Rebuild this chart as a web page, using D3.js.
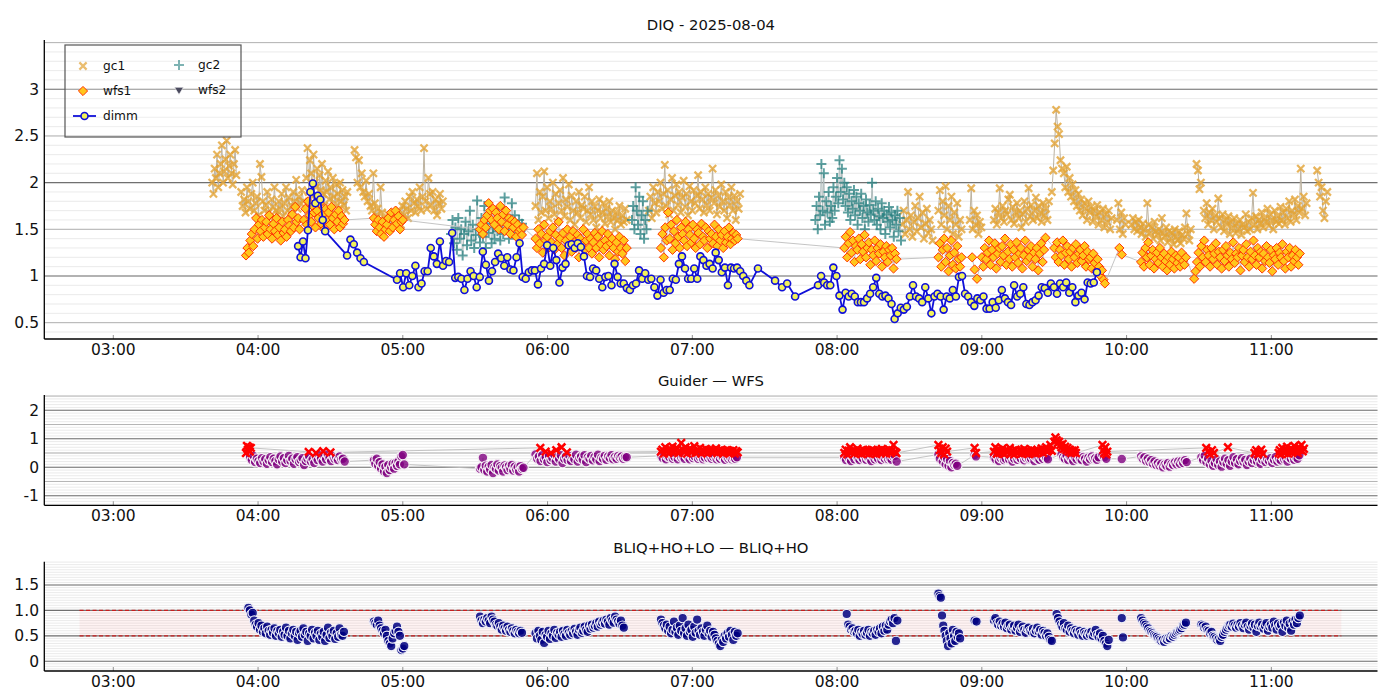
<!DOCTYPE html>
<html>
<head>
<meta charset="utf-8">
<script src="https://cdn.jsdelivr.net/npm/d3@7"></script>
<style>
    body { margin: 0; background: #fff; }
    svg { display: block; font-family: "DejaVu Sans", sans-serif; }
</style>
</head>
<body>
<svg id="chart" width="1400" height="700"></svg>
<script>
// data: each segment is [start "HH:MM", sample step (min), values]
const gc1Segments = [
    ["03:41", 0.5, [2.0,1.88,2.15,2.05,2.3,1.95,2.1,2.2,2.4,2.0,2.12,2.25,2.45,2.05,2.18,2.3,2.1,1.98,2.2,2.35,2.08]],
    ["03:53", 0.6, [1.9,1.75,1.82,1.68,1.95,1.8,1.72,1.88,2.0,1.7,1.78,1.85,1.65,2.2,2.06,1.8,1.7,1.76,1.9,1.68,1.62,1.82,1.74,1.95,1.7,1.66,1.8,1.72,1.88,1.64,1.78,1.95,1.7,1.84,1.67,1.75,1.9,1.8,2.03,1.72,1.85,1.78,1.92,1.8]],
    ["04:20", 0.5, [2.05,2.37,1.9,2.24,2.1,1.85,2.3,2.0,1.95,2.15,1.8,2.08,1.92,2.2,1.88,1.75,2.02,1.9,2.12,1.82,1.95,1.7,2.05,1.85,1.78,1.98,1.88,1.72,2.0,1.8,1.92,1.76,1.85,1.7,1.9]],
    ["04:40", 0.6, [2.35,2.27,2.0,2.24,1.95,2.1,1.9,1.85,2.02,1.8,1.88,1.75,1.7,2.1,1.78,1.65,1.72,1.6,1.95,1.68,1.58,1.62,1.55,1.66,1.52,1.6,1.56,1.64,1.58]],
    ["04:58", 0.6, [1.6,1.7,1.55,1.75,1.65,1.8,1.72,1.62,1.85,1.7,1.9,1.78,1.68,1.82,1.75,1.95,1.7,1.85,2.37,1.8,1.72,2.05,1.88,1.76,1.9,1.7,1.82,1.65,1.78,1.88,1.72,1.8]],
    ["05:55", 0.6, [1.75,2.1,1.6,1.9,1.68,1.85,2.12,1.7,1.95,1.62,1.8,1.72,2.0,1.66,1.88,1.58,1.78,1.92,1.7,2.05,1.64,1.82,1.74,1.98,1.6,1.86,1.7,1.55,1.8,1.68,1.9,1.62,1.76,1.72,1.85,1.58,1.7,1.95,1.66,1.8,1.6,1.74,1.52,1.7,1.82,1.62,1.68,1.78,1.56,1.72,1.64,1.8,1.58,1.7,1.62,1.5,1.68,1.6,1.75,1.55,1.65,1.58,1.72,1.6]],
    ["06:42", 0.6, [1.7,1.85,1.62,1.95,1.78,1.68,1.9,1.8,2.0,1.72,1.88,2.19,1.75,1.92,1.66,1.82,2.05,1.7,1.86,1.98,1.76,1.9,1.68,1.84,2.02,1.74,1.88,1.65,1.96,1.8,1.7,1.92,1.78,1.86,2.08,1.72,1.9,1.82,1.68,1.95,1.76,1.88,1.7,1.84,2.15,1.78,1.92,1.66,1.86,1.74,1.98,1.8,1.7,1.9,1.62,1.84,1.76,1.95,1.7,1.86,1.6,1.8,1.72,1.88]],
    ["08:27", 0.6, [1.55,1.7,1.45,1.6,1.9,1.5,1.65,1.42,1.58,1.75,1.48,1.62,1.85,1.52,1.68,1.4,1.56,1.72,1.46,1.6,1.5,1.38]],
    ["08:42", 0.6, [1.7,1.92,1.55,1.8,1.65,1.96,1.5,1.75,1.6,1.85,1.45,1.68,1.55,1.78,1.42,1.6,1.5]],
    ["08:55", 0.6, [1.6,1.94,1.5,1.7,1.55,1.65,1.45,1.58,1.52]],
    ["09:05", 0.6, [1.6,1.72,1.55,1.68,1.94,1.62,1.75,1.58,1.7,1.66,1.82,1.87,1.6,1.74,1.56,1.68,1.78,1.62,1.7,1.52,1.66,1.8,1.58,1.72,1.94,1.64,1.76,1.6,1.7,1.84,1.62,1.75,1.68,1.58,1.78,1.65,1.72,1.6,1.8]],
    ["09:29", 0.6, [1.9,2.13,2.42,2.78,2.6,2.52,2.24,2.15]],
    ["09:34", 0.6, [2.1,1.95,2.17,1.9,2.05,1.85,1.98,1.8,1.92,1.75,1.88,1.7,1.82,1.65,1.78,1.72,1.6,1.8,1.68,1.74,1.58,1.7,1.64,1.76,1.55,1.68,1.6,1.72,1.52,1.66,1.58,1.7,1.5,1.62]],
    ["09:56", 0.6, [1.6,1.78,1.5,1.68,1.45,1.62,1.55]],
    ["10:02", 0.6, [1.55,1.62,1.5,1.58,1.48,1.6,1.52,1.45,1.56,1.5,1.42,1.78,1.55,1.46,1.52,1.4,1.58,1.48,1.44,1.5,1.38,1.62,1.46,1.42,1.52,1.36,1.48,1.4,1.46,1.34,1.5,1.42,1.38,1.48,1.35,1.44,1.4,1.52,1.67,1.45,1.38,1.5]],
    ["10:29", 0.6, [2.2,2.13,1.93,2.0]],
    ["10:32", 0.6, [1.7,1.62,1.78,1.55,1.68,1.6,1.72,1.5,1.65,1.58,1.83,1.62,1.52,1.66,1.48,1.6,1.55,1.64,1.45,1.58,1.52,1.62,1.46,1.56,1.5,1.6,1.44,1.55,1.52,1.66,1.48,1.58,1.5,1.62,1.89,1.55,1.64,1.5,1.6,1.56,1.68,1.52,1.62,1.58,1.72,1.54,1.66,1.6,1.5,1.7,1.58,1.64,1.56,1.74,1.6,1.68,1.55,1.72,1.62,1.8,1.58,1.7,1.66,1.82,1.6,1.75,1.68,2.15,1.72,1.85,1.65,1.78]],
    ["11:19", 0.6, [2.13,2.0,1.85,1.95,1.7,1.62,1.8,1.9]]
];

const gc2Segments = [
    ["05:20", 0.6, [1.45,1.6,1.35,1.52,1.28,1.62,1.4,1.5,1.22,1.45,1.58,1.33,1.48,1.7,1.38,1.55,1.3,1.44,1.81,1.5,1.36,1.62,1.42,1.75,1.3,1.56,1.46,1.68,1.35,1.52,1.4,1.6,1.48,1.72,1.38,1.55,1.45,1.84,1.5,1.62,1.4,1.58,1.78,1.46,1.65,1.52,1.42,1.6,1.48,1.56]],
    ["06:35", 0.5, [1.6,1.75,1.5,1.95,1.7,1.55,1.85,1.45,1.65,1.8,1.4,1.6,1.5,1.7]],
    ["07:51", 0.5, [1.6,1.75,1.5,1.85,1.65,2.2,1.7,2.1,1.55,1.8,1.68,1.9,1.58,1.75,1.62,1.95,1.7,1.85,2.05,1.78,2.24,1.9,2.15,1.82,2.0,1.75,1.95,1.68,1.88,1.6,1.8,1.72,1.92,1.65,1.85,1.55,1.78,1.7,1.88,1.62,1.75,1.5,1.82,1.68,1.58,1.76,1.66,2.0,1.7,1.6,1.8,1.55,1.72,1.64,1.5,1.78,1.62,1.7,1.45,1.66,1.58,1.74,1.52,1.68,1.6,1.42,1.65,1.55,1.7,1.48,1.62,1.38]]
];

const wfs1Segments = [
    ["03:55", 0.6, [1.22,1.3,1.25,1.38,1.45,1.32,1.5,1.62,1.4,1.55,1.48,1.6,1.42,1.52,1.58,1.45,1.65,1.5,1.4,1.56,1.48,1.62,1.44,1.52,1.38,1.58,1.46,1.5,1.42,1.6,1.54,1.48,1.66,1.52,1.74,1.58,1.62,1.5]],
    ["04:19", 0.6, [1.6,1.72,1.55,1.8,1.65,1.58,1.75,1.68,1.52,1.7,1.62,1.78,1.56,1.66,1.5,1.72,1.6,1.68,1.55,1.74,1.62,1.5,1.66,1.58,1.7,1.52,1.64,1.56,1.6]],
    ["04:48", 0.6, [1.62,1.55,1.48,1.6,1.52,1.45,1.58,1.42,1.5,1.55,1.62,1.48,1.68,1.52,1.6,1.7,1.56,1.64,1.5,1.58,1.6]],
    ["05:32", 0.6, [1.5,1.55,1.45,1.6,1.52,1.65,1.78,1.7,1.6,1.72,1.55,1.68,1.62,1.5,1.75,1.58,1.66,1.48,1.7,1.55,1.62,1.45,1.6,1.52,1.58,1.42,1.55,1.48,1.5,1.44,1.52]],
    ["05:55", 0.6, [1.4,1.3,1.5,1.35,1.45,1.25,1.55,1.38,1.42,1.3,1.48,1.36,1.52,1.28,1.44,1.34,1.58,1.4,1.3,1.46,1.22,1.38,1.5,1.32,1.42,1.26,1.48,1.36,1.3,1.44,1.2,1.4,1.34,1.5,1.28,1.38,1.45,1.3,1.4,1.24,1.36,1.46,1.3,1.42,1.2,1.34,1.48,1.28,1.38,1.32,1.45,1.22,1.35,1.4,1.3,1.18,1.36,1.26,1.42,1.3,1.24,1.38,1.16,1.3]],
    ["06:47", 0.6, [1.3,1.45,1.2,1.52,1.38,1.68,1.4,1.55,1.28,1.48,1.35,1.6,1.42,1.3,1.52,1.45,1.38,1.58,1.32,1.5,1.44,1.36,1.55,1.4,1.3,1.5,1.46,1.34,1.56,1.42,1.38,1.52,1.3,1.48,1.4,1.45,1.35,1.55,1.42,1.32,1.5,1.38,1.44,1.3,1.48,1.36,1.42,1.52,1.34,1.4,1.46,1.38,1.44,1.4]],
    ["08:03", 0.6, [1.3,1.42,1.2,1.35,1.47,1.25,1.38,1.15,1.32,1.28,1.4,1.18,1.34,1.26,1.44,1.2,1.3,1.36,1.12,1.28,1.22,1.38,1.16,1.3,1.24,1.34,1.1,1.26,1.2,1.32,1.15,1.28,1.22,1.3,1.08,1.24,1.18]],
    ["08:42", 0.6, [1.2,1.35,1.1,1.28,1.4,1.15,1.3,1.05,1.22,1.38,1.12,1.25,1.08,1.32,1.18,1.1,1.2]],
    ["08:56", 1, [1.2,1.07,0.97]],
    ["09:00", 0.6, [1.2,1.1,1.3,1.18,1.25,1.38,1.12,1.28,1.2,1.35,1.08,1.24,1.3,1.15,1.32,1.22,1.4,1.12,1.26,1.18,1.34,1.1,1.28,1.2,1.36,1.14,1.24,1.3,1.08,1.22,1.38,1.16,1.28,1.2,1.32,1.1,1.25,1.18,1.3,1.06,1.24,1.35,1.15,1.28,1.41]],
    ["09:30", 0.6, [1.3,1.2,1.36,1.15,1.28,1.22,1.38,1.12,1.25,1.32,1.18,1.26,1.1,1.3,1.2,1.34,1.14,1.24,1.28,1.16,1.22,1.32,1.1,1.26,1.18,1.2,1.08,1.24,1.14,1.05,1.18,1.1,1.0,1.06,0.96,0.92]],
    ["09:57", 1, [1.3,1.23]],
    ["10:06", 0.6, [1.15,1.25,1.1,1.3,1.2,1.36,1.12,1.22,1.28,1.08,1.18,1.25,1.14,1.3,1.2,1.1,1.24,1.16,1.06,1.2,1.12,1.26,1.18,1.08,1.22,1.14,1.2,1.1,1.25,1.16,1.12,1.2]],
    ["10:28", 0.6, [0.97,1.05,1.15,1.25,1.1,1.32,1.2,1.38,1.15,1.28,1.22,1.1,1.3,1.18,1.24,1.35,1.12,1.26,1.2,1.08,1.28,1.16,1.32,1.22,1.1,1.25,1.18,1.36,1.14,1.24,1.2,1.3,1.06,1.22,1.28,1.15,1.34,1.2,1.1,1.26,1.18,1.38,1.22,1.12,1.3,1.2,1.26,1.08,1.24,1.16,1.32,1.2,1.14,1.28,1.05,1.22,1.18,1.3,1.12,1.25,1.2,1.34,1.16,1.08,1.26,1.2,1.3,1.1,1.22,1.16,1.28,1.2,1.12,1.24]]
];

const dimmSegments = [
    ["04:16.6", 1.02, [1.32,1.2,1.37,1.19,1.49,1.9,1.99,1.78,1.86,1.82,1.6,1.48]],
    ["04:36.9", 1.39, [1.22,1.39,1.34,1.25,1.19,1.15]],
    ["04:57.6", 1.27, [0.96,1.03,0.88,1.03,0.9,1.0,1.11,0.88,0.92,1.05,1.05,1.3,1.21,1.13,1.37,1.11,1.16,1.15,1.46,0.98,0.99,0.97,0.85,0.97,1.05,1.0,0.88,0.99,1.26,1.12,0.95,1.05,1.15,1.24,1.19,1.11,1.2,1.07,1.06,1.2,1.35,0.99,0.97,1.04,1.06,1.06,0.91,1.08,1.13,1.33,1.11,1.3,1.17,0.93,1.09,1.13,1.33,1.34,1.3,1.35,1.31,1.21,1.0,0.99,1.08,1.06,0.97,0.88,0.99,1.0,0.9,1.13,0.99,0.92,0.92,0.87,0.85,0.9,0.92,1.06,0.97,1.03,0.96,0.97,0.88,0.79,0.96,0.82,0.85,0.85,0.97,0.96,1.13,1.21,1.08,0.97,0.97,1.08,0.97,1.21,1.17,1.11,1.13,1.08,1.25,1.17,1.04,1.09,0.9,1.09,1.08,1.09,1.05,1.0,0.95,0.9]],
    ["07:27.2", 1, [1.08]],
    ["07:34.3", 1, [0.95]],
    ["07:37.2", 1, [0.88]],
    ["07:39.3", 1, [0.92]],
    ["07:42.6", 1, [0.78]],
    ["07:52.1", 1.27, [0.9,1.0,0.93,0.9,0.9,1.09,1.0,0.79,0.64,0.82,0.78,0.81,0.78,0.72,0.72,0.72,0.76,0.81,0.88,0.98,0.81,0.78,0.79,0.76,0.7,0.54,0.6,0.66,0.64,0.67,0.78,0.9,0.78,0.76,0.72,0.88,0.76,0.6,0.78,0.81,0.78,0.64,0.78,0.76,0.85,0.78,0.99,1.0,0.81,0.78,0.72,0.68,0.76,0.74,0.78,0.65,0.65,0.72,0.66,0.74,0.85,0.76,0.72,0.69,0.9,0.78,0.81,0.88,0.7,0.69,0.72,0.74,0.79,0.88,0.87,0.82,0.92,0.88,0.81,0.92,0.88,0.93,0.82,0.88,0.72,0.79,0.82,0.75,0.93,0.92,0.93,1.04]]
];

// guider - wfs, red crosses
const gwCrossSegments = [
    ["03:55", 0.4, [0.5,0.75,0.62,0.7,0.55,0.68]],
    ["04:21", 3, [0.54,0.5,0.56,0.52]],
    ["05:57", 2.2, [0.68,0.55,0.5,0.6,0.7,0.52]],
    ["06:47", 0.6, [0.55,0.62,0.48,0.7,0.58,0.5,0.65,0.56,0.72,0.52,0.6,0.68,0.5,0.58,0.85,0.62,0.54,0.7,0.48,0.6,0.66,0.52,0.58,0.74,0.5,0.62,0.56,0.68,0.48,0.6,0.54,0.64,0.5,0.58,0.62,0.52,0.6,0.56,0.66,0.5,0.58,0.54,0.62,0.48,0.56,0.6,0.52,0.58,0.5,0.55,0.6,0.48,0.56,0.52]],
    ["08:03", 0.6, [0.5,0.62,0.45,0.58,0.7,0.52,0.6,0.48,0.56,0.65,0.5,0.58,0.46,0.62,0.54,0.5,0.6,0.48,0.56,0.62,0.5,0.58,0.46,0.55,0.6,0.5,0.64,0.52,0.58,0.48,0.56,0.62,0.5,0.6,0.78,0.55,0.5]],
    ["08:42", 0.6, [0.78,0.6,0.5,0.7,0.45,0.65,0.55]],
    ["08:57", 0.6, [0.68,0.5]],
    ["09:05", 0.6, [0.55,0.7,0.48,0.62,0.5,0.58,0.66,0.46,0.6,0.52,0.56,0.68,0.5,0.58,0.45,0.62,0.54,0.5,0.6,0.48,0.56,0.64,0.5,0.58,0.46,0.55,0.62,0.5,0.58,0.48,0.6,0.52,0.56,0.66,0.5,0.62,0.7,0.55,0.6,0.78,0.58]],
    ["09:30", 0.5, [0.9,1.05,0.95,0.85,0.9,0.78,0.7,0.82,0.65,0.72,0.6,0.68,0.55,0.62,0.5,0.58,0.52,0.6,0.5]],
    ["09:50", 0.4, [0.78,0.6,0.5,0.7,0.45,0.55]],
    ["10:33", 0.8, [0.68,0.55,0.45,0.6,0.5]],
    ["10:42", 1, [0.7]],
    ["10:53", 0.7, [0.5,0.6,0.45,0.55,0.62,0.48]],
    ["11:03", 0.5, [0.5,0.6,0.45,0.68,0.55,0.5,0.62,0.72,0.48,0.58,0.66,0.52,0.6,0.75,0.55,0.64,0.5,0.7,0.6,0.78,0.56,0.65]]
];

// guider - wfs, purple dots
const gwDotSegments = [
    ["03:56", 0.7, [0.5,0.35,0.25,0.4,0.18,0.3,0.22,0.15,0.32,0.2,0.28,0.12,0.25,0.35,0.18,0.3,0.22,0.1,0.28,0.38,0.2,0.32,0.15,0.25,0.4,0.22,0.3,0.12,0.28,0.35,0.18,0.25,0.32,0.08,0.22,0.3,0.38,0.2,0.28,0.15,0.35,0.25,0.42,0.3,0.2,0.38,0.28,0.45,0.32,0.22,0.4,0.3,0.35,0.25,0.38,0.28,0.3,0.2]],
    ["04:48", 0.6, [0.25,0.12,0.3,0.05,0.18,-0.05,0.1,-0.15,0.02,-0.2,0.08,-0.1,0.0,0.12,-0.05,0.15,0.05,0.2,0.1,0.38,0.43,0.1]],
    ["05:32", 0.6, [-0.05,0.0,0.33,-0.1,0.05,-0.15,0.02,-0.08,0.08,-0.2,0.0,-0.05,0.1,-0.12,0.04,-0.02,-0.15,0.06,0.0,-0.1,0.05,-0.05,0.08,-0.12,0.02,-0.08,0.0,-0.15,0.04,-0.05,-0.02]],
    ["05:55", 0.7, [0.45,0.3,0.38,0.22,0.42,0.28,0.35,0.18,0.4,0.25,0.32,0.45,0.2,0.36,0.28,0.42,0.15,0.3,0.38,0.25,0.4,0.22,0.34,0.28,0.44,0.2,0.32,0.38,0.26,0.42,0.18,0.35,0.3,0.4,0.24,0.36,0.28,0.44,0.22,0.34,0.3,0.4,0.26,0.38,0.32,0.42,0.28,0.36,0.3,0.4,0.34,0.38,0.3,0.36,0.35]],
    ["06:47", 0.7, [0.4,0.32,0.45,0.28,0.38,0.35,0.42,0.3,0.36,0.44,0.28,0.4,0.34,0.38,0.3,0.42,0.35,0.28,0.4,0.32,0.38,0.45,0.3,0.36,0.4,0.28,0.34,0.42,0.32,0.38,0.3,0.36,0.4,0.28,0.35,0.3,0.38,0.32,0.26,0.36,0.3,0.34,0.28,0.32,0.3,0.35]],
    ["08:03", 0.7, [0.35,0.25,0.4,0.3,0.22,0.38,0.28,0.42,0.32,0.25,0.36,0.3,0.4,0.26,0.34,0.3,0.22,0.38,0.28,0.35,0.3,0.4,0.25,0.34,0.3,0.36,0.28,0.32,0.26,0.38,0.4,0.2]],
    ["08:42", 0.6, [0.45,0.3,0.5,0.2,0.35,0.1,0.28,0.05,0.22,0.0,0.15,0.08,0.12,0.05]],
    ["08:57", 0.6, [0.43,0.38]],
    ["09:05", 0.7, [0.35,0.28,0.4,0.22,0.32,0.38,0.25,0.3,0.42,0.28,0.35,0.2,0.3,0.38,0.26,0.34,0.3,0.4,0.24,0.32,0.36,0.28,0.3,0.38,0.22,0.34,0.3,0.26,0.36,0.3,0.4,0.32,0.28]],
    ["09:33", 0.7, [0.45,0.35,0.3,0.4,0.25,0.38,0.3,0.22,0.35,0.28,0.4,0.3,0.25,0.36,0.3,0.2,0.34,0.28,0.38,0.3,0.32,0.26,0.35]],
    ["09:50", 0.8, [0.43,0.35,0.3]],
    ["09:58", 1, [0.29]],
    ["10:06", 0.7, [0.38,0.3,0.35,0.22,0.3,0.18,0.25,0.12,0.2,0.08,0.15,0.05,0.12,0.0,0.1,0.05,0.15,0.02,0.12,0.08,0.18,0.1,0.2,0.12,0.22,0.15,0.25,0.18]],
    ["10:31", 0.7, [0.35,0.25,0.4,0.18,0.3,0.1,0.22,0.05,0.15,0.28,0.08,0.2,0.02,0.18,0.3,0.12,0.25,0.05,0.2,0.35,0.15,0.28,0.1,0.22,0.32,0.18,0.26,0.08,0.2,0.3,0.15,0.25,0.38,0.2,0.3,0.12,0.26,0.35,0.18,0.28,0.22,0.32,0.15,0.26,0.36,0.2,0.3,0.24,0.38,0.28,0.32,0.2,0.34,0.3,0.4,0.26,0.35,0.3,0.42]]
];

// bliq+ho+lo - bliq+ho
const bliqSegments = [
    ["03:56", 0.6, [1.05,1.0,0.92,0.95,0.8,0.72,0.68,0.75,0.62,0.7,0.58,0.65,0.55,0.68,0.6,0.52,0.62,0.56,0.65,0.5,0.6,0.55,0.62,0.48,0.58,0.52,0.66,0.5,0.6,0.45,0.55,0.62,0.5,0.58,0.42,0.55,0.6,0.48,0.65,0.52,0.58,0.4,0.55,0.5,0.62,0.45,0.56,0.5,0.6,0.42,0.54,0.48,0.58,0.4,0.52,0.66,0.46,0.56,0.5,0.6,0.44,0.55,0.48,0.65,0.52,0.5,0.58]],
    ["04:48", 0.6, [0.78,0.75,0.72,0.8,0.7,0.65,0.6,0.55,0.62,0.5,0.4,0.35,0.3,0.45,0.55,0.6,0.68,0.58,0.5,0.22,0.25,0.3]],
    ["05:32", 0.6, [0.88,0.8,0.75,0.82,0.78,0.85,0.8,0.75,0.88,0.82,0.78,0.72,0.7,0.75,0.68,0.62,0.7,0.65,0.6,0.68,0.62,0.58,0.65,0.6,0.55,0.62,0.58,0.55,0.6,0.56]],
    ["05:55", 0.6, [0.55,0.45,0.6,0.5,0.42,0.58,0.36,0.52,0.48,0.6,0.44,0.55,0.5,0.62,0.46,0.56,0.52,0.58,0.48,0.6,0.54,0.5,0.62,0.56,0.52,0.6,0.55,0.64,0.58,0.52,0.62,0.66,0.56,0.6,0.68,0.62,0.58,0.7,0.64,0.72,0.66,0.7,0.75,0.68,0.78,0.72,0.76,0.8,0.74,0.82,0.78,0.72,0.85,0.8,0.76,0.88,0.82,0.78,0.74,0.8,0.7,0.66]],
    ["06:47", 0.6, [0.82,0.75,0.7,0.65,0.72,0.6,0.68,0.55,0.62,0.78,0.58,0.66,0.52,0.7,0.6,0.85,0.55,0.65,0.5,0.72,0.58,0.62,0.48,0.68,0.56,0.82,0.6,0.52,0.65,0.58,0.5,0.62,0.7,0.55,0.6,0.48,0.58,0.52,0.45,0.4,0.35,0.3,0.42,0.38,0.5,0.45,0.55,0.48,0.6,0.52,0.42,0.58,0.5,0.55]],
    ["08:04", 0.6, [0.93,0.72,0.68,0.62,0.65,0.58,0.6,0.55,0.62,0.5,0.58,0.54,0.6,0.52,0.56,0.62,0.5,0.58,0.55,0.6,0.52,0.62,0.58,0.65,0.55,0.68,0.6,0.7,0.62,0.72,0.78,0.82,0.75,0.85,0.4,0.8]],
    ["08:42", 0.5, [1.33,1.28,1.25,0.9,0.7,0.6,0.5,0.4,0.3,0.55,0.45,0.35,0.62,0.5,0.4,0.58,0.48,0.55,0.45]],
    ["08:57", 0.8, [0.8,0.78]],
    ["09:05", 0.6, [0.8,0.85,0.75,0.72,0.78,0.7,0.74,0.68,0.76,0.65,0.7,0.72,0.62,0.68,0.7,0.6,0.66,0.72,0.58,0.65,0.68,0.62,0.56,0.64,0.66,0.6,0.58,0.64,0.55,0.6,0.66,0.58,0.62,0.52,0.6,0.56,0.5,0.55,0.48,0.42,0.4]],
    ["09:31", 0.6, [0.93,0.85,0.78,0.72,0.68,0.75,0.65,0.62,0.7,0.58,0.65,0.6,0.55,0.62,0.58,0.52,0.6,0.55,0.5,0.58,0.54,0.5,0.56,0.52,0.58,0.5,0.55,0.62,0.52,0.48,0.55,0.45,0.5,0.4,0.35,0.3,0.42]],
    ["09:58", 0.5, [0.85,0.47]],
    ["10:06", 0.6, [0.85,0.8,0.75,0.72,0.68,0.65,0.6,0.58,0.55,0.52,0.5,0.48,0.45,0.42,0.4,0.42,0.38,0.44,0.42,0.46,0.45,0.5,0.48,0.52,0.55,0.58,0.6,0.62,0.65,0.7,0.72,0.76]],
    ["10:31", 0.6, [0.72,0.7,0.66,0.68,0.62,0.6,0.55,0.58,0.5,0.48,0.45,0.42,0.44,0.4,0.48,0.52,0.58,0.62,0.66,0.7,0.72,0.68,0.74,0.7,0.66,0.72,0.68,0.75,0.7,0.65,0.72,0.76,0.68,0.62,0.7,0.74,0.66,0.72,0.58,0.7,0.76,0.68,0.72,0.64,0.7,0.75,0.6,0.68,0.72,0.66,0.78,0.7,0.62,0.74,0.68,0.72,0.58,0.76,0.7,0.8,0.66,0.74,0.6,0.78,0.72,0.82,0.75,0.85,0.9]]
];

const bliqBand = [0.5, 1.0];
const bliqBandTimes = ["02:46", "11:29"];

const hourTicks = ["03:00","04:00","05:00","06:00","07:00","08:00","09:00","10:00","11:00"];
const diqTicks = [0.5, 1, 1.5, 2, 2.5, 3];
const diqTickLabels = ["0.5", "1", "1.5", "2", "2.5", "3"];
const gwTicks = [-1, 0, 1, 2];
const gwTickLabels = ["-1", "0", "1", "2"];
const bliqTicks = [0, 0.5, 1, 1.5];
const bliqTickLabels = ["0", "0.5", "1.0", "1.5"];

//helpers
const toTime = s => {
    const [h, m] = s.split(":");
    return new Date(Date.UTC(2025, 7, 4, +h) + parseFloat(m) * 60000);
};
const expand = segs => segs.map(([t0, step, vals]) =>
    vals.map((v, i) => ({ t: new Date(+toTime(t0) + i * step * 60000), v })));

const COLOURS = {
    GC1: "#e2a233",
    GC2: "#2a8282",
    WFS1_FILL: "#ffc61c",
    WFS1_EDGE: "#ff3300",
    WFS2: "#4a4a5e",
    DIMM: "#1010d8",
    DIMM_FILL: "#f2f25a",
    LINK: "#bdbdbd",
    RED: "#ff0000",
    PURPLE: "#800080",
    NAVY: "#000080",
    MAJOR: "#707070",
    MEDIUM: "#b4b4b4",
    MINOR: "#e4e4e4"
};

const plotLeft = 44.3, plotRight = 1377.5;

const x = d3.scaleUtc()
    .domain([toTime("02:31.4"), toTime("11:44")])
    .range([plotLeft, plotRight]);

const panels = [
    { key: "diq", title: "DIQ - 2025-08-04", titleY: 30, top: 40, bottom: 339, domain: [0.325, 3.528],
      ticks: diqTicks, labels: diqTickLabels, major: [1, 2, 3], medium: [0.5, 1.5, 2.5, 3.5], minorStep: 0.1 },
    { key: "gw", title: "Guider \u2014 WFS", titleY: 386, top: 395, bottom: 505.3, domain: [-1.337, 2.537],
      ticks: gwTicks, labels: gwTickLabels, major: [-1, 0, 1, 2], medium: [-0.5, 0.5, 1.5, 2.5], minorStep: 0.1 },
    { key: "bliq", title: "BLIQ+HO+LO \u2014 BLIQ+HO", titleY: 553, top: 561.7, bottom: 671, domain: [-0.191, 1.958],
      ticks: bliqTicks, labels: bliqTickLabels, major: [0, 0.5, 1, 1.5], medium: [], minorStep: 0.05 }
];

//marker paths
const crossPath = s => `M${-s},${-s}L${s},${s}M${-s},${s}L${s},${-s}`;
const plusPath = s => `M${-s},0H${s}M0,${-s}V${s}`;
const diamondPath = s => `M0,${-s}L${s},0L0,${s}L${-s},0Z`;
const triDownPath = s => `M${-s},${-s * 0.6}L${s},${-s * 0.6}L0,${s}Z`;

const svg = d3.select("#chart");

panels.forEach(p => {
    p.y = d3.scaleLinear().domain(p.domain).range([p.bottom, p.top]);
    const g = svg.append("g").attr("class", `panel panel-${p.key}`);
    p.g = g;

    g.append("clipPath").attr("id", `clip-${p.key}`)
        .append("rect")
            .attr("x", plotLeft)
            .attr("y", p.top)
            .attr("width", plotRight - plotLeft)
            .attr("height", p.bottom - p.top);

    //grid
    const gridG = g.append("g").attr("class", "grid");
    const minor = d3.range(Math.ceil(p.domain[0] / p.minorStep), Math.floor(p.domain[1] / p.minorStep) + 1)
        .map(k => +(k * p.minorStep).toFixed(3));
    const gridLines = [
        ...minor.map(v => ({ v, c: COLOURS.MINOR, w: 0.8 })),
        ...p.medium.filter(v => v >= p.domain[0] && v <= p.domain[1]).map(v => ({ v, c: COLOURS.MEDIUM, w: 1 })),
        ...p.major.map(v => ({ v, c: COLOURS.MAJOR, w: 1.1 }))
    ];
    gridG.selectAll("line").data(gridLines).join("line")
        .attr("x1", plotLeft)
        .attr("x2", plotRight)
        .attr("y1", d => p.y(d.v))
        .attr("y2", d => p.y(d.v))
        .attr("stroke", d => d.c)
        .attr("stroke-width", d => d.w);

    p.contents = g.append("g").attr("class", "contents").attr("clip-path", `url(#clip-${p.key})`);

    //title
    g.append("text")
        .attr("x", (plotLeft + plotRight) / 2)
        .attr("y", p.titleY)
        .attr("text-anchor", "middle")
        .attr("font-size", 14.8)
        .attr("fill", "#111")
        .text(p.title);
});

function drawAxes(p) {
    const g = p.g.append("g").attr("class", "axes");
    //ticks (inward)
    g.selectAll("line.xtick").data(hourTicks).join("line")
        .attr("class", "xtick")
        .attr("x1", d => x(toTime(d)))
        .attr("x2", d => x(toTime(d)))
        .attr("y1", p.bottom)
        .attr("y2", p.bottom - 4)
        .attr("stroke", "#777")
        .attr("stroke-width", 0.8);
    g.selectAll("text.xlabel").data(hourTicks).join("text")
        .attr("class", "xlabel")
        .attr("x", d => x(toTime(d)))
        .attr("y", p.bottom + 15.5)
        .attr("text-anchor", "middle")
        .attr("font-size", 15.5)
        .attr("fill", "#111")
        .text(d => d);
    g.selectAll("text.ylabel").data(p.ticks).join("text")
        .attr("class", "ylabel")
        .attr("x", 39)
        .attr("y", d => p.y(d))
        .attr("dy", "0.35em")
        .attr("text-anchor", "end")
        .attr("font-size", 15.5)
        .attr("fill", "#111")
        .text((d, i) => p.labels[i]);
    //spines
    g.append("line")
        .attr("x1", plotLeft).attr("x2", plotRight)
        .attr("y1", p.bottom).attr("y2", p.bottom)
        .attr("stroke", "#000").attr("stroke-width", 1.3);
    g.append("line")
        .attr("x1", plotLeft).attr("x2", plotLeft)
        .attr("y1", p.top).attr("y2", p.bottom)
        .attr("stroke", "#000").attr("stroke-width", 1.3);
}

function markers(sel, data, p, path, attrs) {
    const m = sel.append("g").selectAll("path").data(data).join("path")
        .attr("transform", d => `translate(${x(d.t)},${p.y(d.v)})`)
        .attr("d", path);
    Object.entries(attrs).forEach(([k, v]) => m.attr(k, v));
    return m;
}

function dots(sel, data, p, attrs) {
    const m = sel.append("g").selectAll("circle").data(data).join("circle")
        .attr("cx", d => x(d.t))
        .attr("cy", d => p.y(d.v));
    Object.entries(attrs).forEach(([k, v]) => m.attr(k, v));
    return m;
}

function linkLine(sel, data, p, colour, w) {
    sel.append("path")
        .datum(data)
        .attr("fill", "none")
        .attr("stroke", colour)
        .attr("stroke-width", w)
        .attr("d", d3.line().x(d => x(d.t)).y(d => p.y(d.v)));
}

// ---- panel 1: DIQ ----
{
    const p = panels[0];
    const c = p.contents;
    const gc1 = expand(gc1Segments);
    const gc2 = expand(gc2Segments);
    const wfs1 = expand(wfs1Segments).flat();
    const dimm = expand(dimmSegments).flat();

    gc1.forEach(seg => linkLine(c, seg, p, "#bdb3a0", 1));
    markers(c, gc1.flat(), p, crossPath(3.6), { fill: "none", stroke: COLOURS.GC1, "stroke-width": 2.3, opacity: 0.8 });

    gc2.forEach(seg => linkLine(c, seg, p, "#afbcbc", 1));
    markers(c, gc2.flat(), p, plusPath(5), { fill: "none", stroke: COLOURS.GC2, "stroke-width": 2, opacity: 0.75 });

    linkLine(c, wfs1, p, COLOURS.LINK, 0.9);
    markers(c, wfs1, p, diamondPath(4.6), { fill: COLOURS.WFS1_FILL, stroke: COLOURS.WFS1_EDGE, "stroke-width": 1 });

    linkLine(c, dimm, p, COLOURS.DIMM, 1.8);
    dots(c, dimm, p, { r: 3.5, fill: COLOURS.DIMM_FILL, stroke: COLOURS.DIMM, "stroke-width": 1.6 });

    drawAxes(p);

    //legend
    const lg = p.g.append("g").attr("class", "legend");
    lg.append("rect")
        .attr("x", 65).attr("y", 45)
        .attr("width", 176).attr("height", 92)
        .attr("fill", "#fff").attr("fill-opacity", 0.25)
        .attr("stroke", "#555").attr("stroke-width", 1.2);
    const items = [
        { label: "gc1", x: 83, y: 66 },
        { label: "gc2", x: 179, y: 65 },
        { label: "wfs1", x: 83, y: 91 },
        { label: "wfs2", x: 179, y: 90 },
        { label: "dimm", x: 84, y: 116 }
    ];
    const li = d => items.find(it => it.label === d);
    lg.append("path").attr("transform", `translate(${li("gc1").x},${li("gc1").y})`).attr("d", crossPath(3.6))
        .attr("stroke", COLOURS.GC1).attr("stroke-width", 2.2).attr("opacity", 0.7);
    lg.append("path").attr("transform", `translate(${li("gc2").x},${li("gc2").y})`).attr("d", plusPath(5))
        .attr("stroke", COLOURS.GC2).attr("stroke-width", 2).attr("opacity", 0.6);
    lg.append("path").attr("transform", `translate(${li("wfs1").x},${li("wfs1").y})`).attr("d", diamondPath(4.6))
        .attr("fill", COLOURS.WFS1_FILL).attr("stroke", COLOURS.WFS1_EDGE).attr("stroke-width", 1);
    lg.append("path").attr("transform", `translate(${li("wfs2").x},${li("wfs2").y})`).attr("d", triDownPath(4.5))
        .attr("fill", COLOURS.WFS2).attr("stroke", "#fff").attr("stroke-width", 0.6);
    lg.append("line").attr("x1", 73).attr("x2", 96).attr("y1", 116).attr("y2", 116)
        .attr("stroke", COLOURS.DIMM).attr("stroke-width", 1.8);
    lg.append("circle").attr("cx", 84.5).attr("cy", 116).attr("r", 3.5)
        .attr("fill", COLOURS.DIMM_FILL).attr("stroke", COLOURS.DIMM).attr("stroke-width", 1.6);
    lg.selectAll("text").data(items).join("text")
        .attr("x", d => d.x < 100 ? 103 : 198)
        .attr("y", d => d.y)
        .attr("dy", "0.35em")
        .attr("font-size", 12.2)
        .attr("fill", "#111")
        .text(d => d.label);
}

// ---- panel 2: guider - wfs ----
{
    const p = panels[1];
    const c = p.contents;
    const red = expand(gwCrossSegments).flat();
    const purple = expand(gwDotSegments).flat();
    linkLine(c, purple, p, COLOURS.LINK, 0.9);
    linkLine(c, red, p, COLOURS.LINK, 0.9);
    dots(c, purple, p, { r: 4.8, fill: COLOURS.PURPLE, stroke: "#f4eef4", "stroke-width": 1.2, "fill-opacity": 0.8 });
    markers(c, red, p, crossPath(3.8), { fill: "none", stroke: COLOURS.RED, "stroke-width": 2.5 });
    drawAxes(p);
}

// ---- panel 3: bliq ----
{
    const p = panels[2];
    const c = p.contents;
    const pts = expand(bliqSegments).flat();
    const bx0 = x(toTime(bliqBandTimes[0])), bx1 = x(toTime(bliqBandTimes[1]));
    c.append("rect")
        .attr("x", bx0).attr("width", bx1 - bx0)
        .attr("y", p.y(bliqBand[1])).attr("height", p.y(bliqBand[0]) - p.y(bliqBand[1]))
        .attr("fill", "#ff6060").attr("fill-opacity", 0.08);
    c.selectAll("line.limit").data(bliqBand).join("line")
        .attr("class", "limit")
        .attr("x1", bx0).attr("x2", bx1)
        .attr("y1", d => p.y(d)).attr("y2", d => p.y(d))
        .attr("stroke", "#c81e1e")
        .attr("stroke-width", 1.2)
        .attr("stroke-dasharray", "4,2.5");
    dots(c, pts, p, { r: 4.7, fill: COLOURS.NAVY, stroke: "#eeeef8", "stroke-width": 1.2, "fill-opacity": 0.85 });
    drawAxes(p);
}
</script>
</body>
</html>
